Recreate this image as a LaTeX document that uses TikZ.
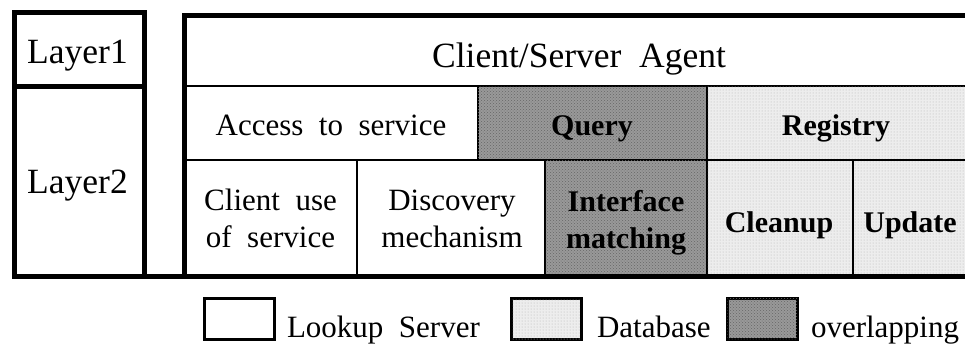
\documentclass[tikz,border=0pt]{standalone}
\usepackage{fontspec}
\setmainfont{Liberation Serif}
\usetikzlibrary{patterns}
\newcommand{\widesp}{\spaceskip=0.5em plus 0.1em\relax}
\newcommand{\twolines}[2]{\begin{tabular}[t]{@{}c@{}}#1\\#2\end{tabular}}
\begin{document}
\begin{tikzpicture}[x=1pt,y=-1pt,
  every node/.style={inner sep=0pt, outer sep=0pt},
  txt/.style={font=\fontsize{31}{37}\selectfont, anchor=base, execute at begin node=\widesp},
  btxt/.style={font=\bfseries\fontsize{30}{37}\selectfont, anchor=base, execute at begin node=\widesp},
  big/.style={font=\fontsize{35.5}{40}\selectfont, anchor=base, execute at begin node=\widesp},
  cell/.style={draw=black, line width=2pt, fill=white},
  darkcell/.style={draw=black, line width=2pt, fill=black!40, postaction={pattern=crosshatch dots, pattern color=black!60}},
  lightcell/.style={draw=black, line width=2pt, fill=black!7, postaction={pattern=dots, pattern color=black!30}},
  frame/.style={line width=5pt, line cap=rect},
  legbox/.style={draw=black, line width=2.5pt, minimum width=70pt, minimum height=41pt},
]
\useasboundingbox (0,0) rectangle (965,351);

% cells: left column
\node[cell, minimum width=130pt, minimum height=74pt] (l1) at (79.5,49) {};
\node[cell, minimum width=130pt, minimum height=190pt] (l2) at (79.5,181) {};

% cells: right block
\node[cell, minimum width=787.5pt, minimum height=71pt] (title) at (578.25,50.5) {};
\node[cell, minimum width=293.5pt, minimum height=74pt] (access) at (331.25,123) {};
\node[darkcell, minimum width=229pt, minimum height=74pt] (query) at (592.5,123) {};
\node[lightcell, minimum width=265pt, minimum height=74pt] (registry) at (839.5,123) {};
\node[cell, minimum width=172.5pt, minimum height=116pt] (client) at (270.75,218) {};
\node[cell, minimum width=188pt, minimum height=116pt] (disc) at (451,218) {};
\node[darkcell, minimum width=162pt, minimum height=116pt] (iface) at (626,218) {};
\node[lightcell, minimum width=146pt, minimum height=116pt] (cleanup) at (780,218) {};
\node[lightcell, minimum width=119pt, minimum height=116pt] (update) at (912.5,218) {};

% labels
\node[big] (t-l1) at (77.5,63) {Layer1};
\node[big] (t-l2) at (77.5,193) {Layer2};
\node[big] (t-title) at (579,67) {Client/Server Agent};
\node[txt] (t-access) at (331,135) {Access to service};
\node[btxt] (t-query) at (592,135) {Query};
\node[btxt] (t-registry) at (836,135) {Registry};
\node[txt] (t-client) at (270.5,210) {\twolines{Client use}{of service}};
\node[txt] (t-disc) at (452,210) {\twolines{Discovery}{mechanism}};
\node[btxt] (t-iface) at (626,211) {\twolines{Interface}{matching}};
\node[btxt] (t-cleanup) at (779,232) {Cleanup};
\node[btxt] (t-update) at (910,232) {Update};

% thick frames
\draw[frame] (l1.north west) rectangle (l2.south east);
\draw[frame] (l1.south west) -- (l1.south east);
\draw[frame] (title.north east) -- (title.north west) -- (client.south west);
\draw[frame] (l2.south west) -- (update.south east);

% legend
\node[legbox, fill=white] (lg1) at (239.5,319) {};
\node[txt, anchor=base west] (lt1) at (287,337) {Lookup Server};
\node[legbox, fill=black!7, postaction={pattern=dots, pattern color=black!30}] (lg2) at (546.5,319) {};
\node[txt, anchor=base west] (lt2) at (597,337) {Database};
\node[legbox, fill=black!40, postaction={pattern=crosshatch dots, pattern color=black!60}] (lg3) at (762.5,319) {};
\node[txt, anchor=base west] (lt3) at (811,337) {overlapping};
\end{tikzpicture}
\end{document}
